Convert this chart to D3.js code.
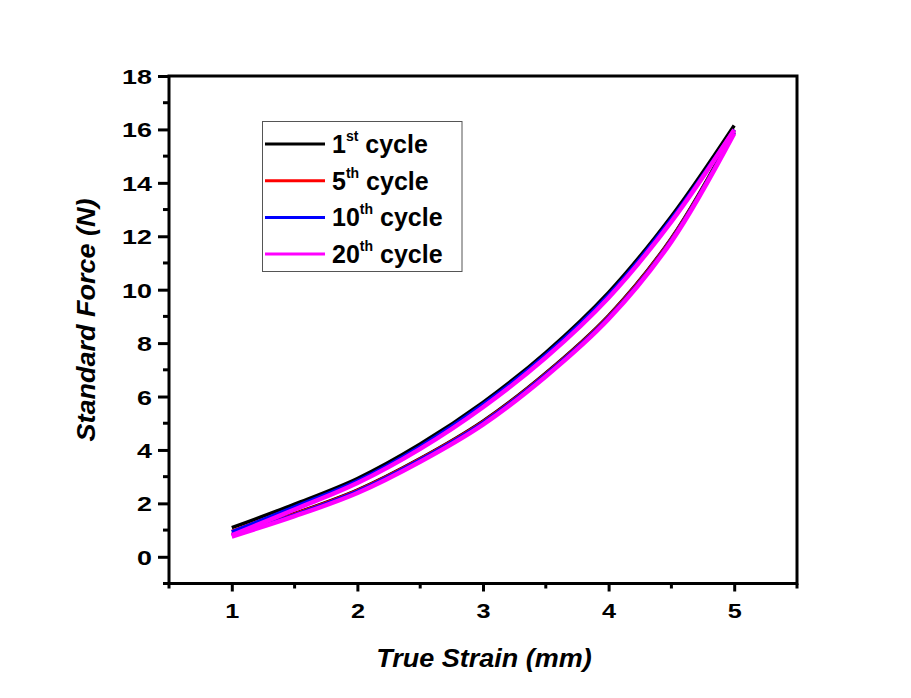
<!DOCTYPE html>
<html><head><meta charset="utf-8">
<script src="https://cdn.jsdelivr.net/npm/d3@7"></script>
<style>body{margin:0;background:#fff}svg{display:block}text{font-family:"Liberation Sans",Arial,sans-serif;font-weight:bold}</style>
</head><body><svg id="c" width="911" height="698"></svg>
<script>
const strain = [1, 1.5, 2, 2.5, 3, 3.5, 4, 4.5, 5];
const cycle1Load   = [1.09, 1.97, 2.93, 4.22, 5.78, 7.65, 9.9, 12.75, 16.15];
const cycle1Unload = [0.84, 1.62, 2.5, 3.68, 5.08, 6.88, 9.03, 11.93, 15.95];
const cycle5Load   = [0.95, 1.84, 2.8, 4.08, 5.64, 7.5, 9.74, 12.6, 16.0];
const cycle5Unload = [0.82, 1.6, 2.48, 3.66, 5.05, 6.85, 9.0, 11.9, 15.9];
const cycle10Load  = [0.93, 1.87, 2.84, 4.13, 5.7, 7.56, 9.8, 12.65, 16.0];
const cycle10Unload= [0.8, 1.57, 2.45, 3.63, 5.02, 6.82, 8.96, 11.86, 15.9];
const cycle20Load  = [0.8, 1.77, 2.76, 4.04, 5.6, 7.46, 9.7, 12.55, 15.98];
const cycle20Unload= [0.76, 1.52, 2.39, 3.56, 4.95, 6.75, 8.9, 11.8, 15.85];
const seriesNames = ["1", "5", "10", "20"];
const seriesSup = ["st", "th", "th", "th"];
const seriesColors = ["#000000", "#ff0000", "#0000ff", "#ff00ff"];
const xTicks = [1, 2, 3, 4, 5];
const yTicks = [0, 2, 4, 6, 8, 10, 12, 14, 16, 18];

const svg = d3.select("#c");
const L = 169, R = 797, T = 76, B = 583.5;
const x = d3.scaleLinear().domain([0.5, 5.5]).range([L, R]);
const y = d3.scaleLinear().domain([-1, 18]).range([B, T]);

function widen(sel, k) {
  sel.each(function () {
    const w = this.getComputedTextLength();
    d3.select(this).attr("textLength", w * k).attr("lengthAdjust", "spacingAndGlyphs");
  });
}

// frame
svg.append("rect").attr("x", L).attr("y", T).attr("width", R - L).attr("height", B - T)
  .attr("fill", "none").attr("stroke", "#000").attr("stroke-width", 3);

// y axis
const yAx = svg.append("g").attr("transform", `translate(${L},0)`)
  .call(d3.axisLeft(y).tickValues(yTicks).tickSize(11).tickPadding(6).tickFormat(d3.format("d")));
yAx.select(".domain").remove();
yAx.selectAll("line").attr("stroke-width", 3);
yAx.selectAll("text").attr("font-size", 21).attr("font-weight", "bold").attr("fill", "#000")
  .style("font-family", '"Liberation Sans",Arial,sans-serif').attr("dy", "0.36em");
widen(yAx.selectAll("text"), 1.28);
const yMinor = d3.range(-1, 18, 2);
svg.append("g").selectAll("line").data(yMinor).join("line")
  .attr("x1", L - 6).attr("x2", L).attr("y1", d => y(d)).attr("y2", d => y(d))
  .attr("stroke", "#000").attr("stroke-width", 3);

// x axis
const xAx = svg.append("g").attr("transform", `translate(0,${B})`)
  .call(d3.axisBottom(x).tickValues(xTicks).tickSize(8).tickPadding(12).tickFormat(d3.format("d")));
xAx.select(".domain").remove();
xAx.selectAll("line").attr("stroke-width", 3);
xAx.selectAll("text").attr("font-size", 21).attr("font-weight", "bold").attr("fill", "#000")
  .style("font-family", '"Liberation Sans",Arial,sans-serif');
widen(xAx.selectAll("text"), 1.2);
const xMinor = [0.5, 1.5, 2.5, 3.5, 4.5, 5.5];
svg.append("g").selectAll("line").data(xMinor).join("line")
  .attr("x1", d => x(d)).attr("x2", d => x(d)).attr("y1", B).attr("y2", B + 5)
  .attr("stroke", "#000").attr("stroke-width", 3);

// titles
const xt = svg.append("text").attr("x", 484).attr("y", 667).attr("text-anchor", "middle")
  .attr("font-size", 25).attr("font-style", "italic").text("True Strain (mm)");
widen(xt, 1.08);
const yt = svg.append("text").attr("transform", "translate(95,320) rotate(-90)").attr("text-anchor", "middle")
  .attr("font-size", 25).attr("font-style", "italic").text("Standard Force (N)");
widen(yt, 1.08);

// curves
const loads = [cycle1Load, cycle5Load, cycle10Load, cycle20Load];
const unloads = [cycle1Unload, cycle5Unload, cycle10Unload, cycle20Unload];
const line = d3.line().x(d => x(d[0])).y(d => y(d[1])).curve(d3.curveCatmullRom.alpha(0.5));
const widths = [3.5, 3.5, 3.5, 4.5];
const g = svg.append("g");
loads.forEach((ld, i) => {
  g.append("path").attr("d", line(strain.map((s, j) => [s, ld[j]])))
    .attr("fill", "none").attr("stroke", seriesColors[i]).attr("stroke-width", widths[i]);
  g.append("path").attr("d", line(strain.map((s, j) => [s, unloads[i][j]])))
    .attr("fill", "none").attr("stroke", seriesColors[i]).attr("stroke-width", widths[i]);
});

// legend
const lg = svg.append("g");
lg.append("rect").attr("x", 262.5).attr("y", 121.5).attr("width", 199.5).attr("height", 150)
  .attr("fill", "#fff").attr("stroke", "#555").attr("stroke-width", 1);
seriesNames.forEach((n, i) => {
  const yy = 144 + i * 36.7;
  lg.append("line").attr("x1", 265).attr("x2", 325).attr("y1", yy).attr("y2", yy)
    .attr("stroke", seriesColors[i]).attr("stroke-width", 3);
  const t = lg.append("text").attr("x", 332).attr("y", yy + 9).attr("font-size", 25);
  t.append("tspan").text(n);
  t.append("tspan").attr("font-size", 14).attr("dy", -12).text(seriesSup[i]);
  t.append("tspan").attr("dy", 12).text(" cycle");
});
</script></body></html>
